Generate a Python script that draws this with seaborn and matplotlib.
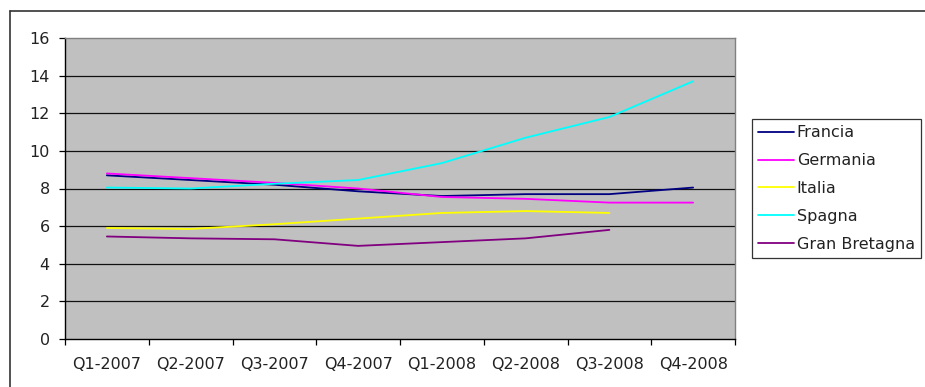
import numpy as np
import pandas as pd
import seaborn as sns
import matplotlib
matplotlib.use("Agg")
import matplotlib.pyplot as plt
from matplotlib.lines import Line2D

# Quarterly values per country
quarters = ["Q1-2007", "Q2-2007", "Q3-2007", "Q4-2007",
            "Q1-2008", "Q2-2008", "Q3-2008", "Q4-2008"]
francia = [8.7, 8.45, 8.2, 7.85, 7.6, 7.7, 7.7, 8.05]
germania = [8.8, 8.55, 8.3, 8.0, 7.55, 7.45, 7.25, 7.25]
italia = [5.9, 5.85, 6.1, 6.4, 6.7, 6.8, 6.7, np.nan]
spagna = [8.05, 8.0, 8.25, 8.45, 9.35, 10.7, 11.8, 13.7]
gran_bretagna = [5.45, 5.35, 5.3, 4.95, 5.15, 5.35, 5.8, np.nan]

countries = ["Francia", "Germania", "Italia", "Spagna", "Gran Bretagna"]
colors = ["#000080", "#FF00FF", "#FFFF00", "#00FFFF", "#800080"]
yticks = [0, 2, 4, 6, 8, 10, 12, 14, 16]

series = {"Francia": francia, "Germania": germania, "Italia": italia,
          "Spagna": spagna, "Gran Bretagna": gran_bretagna}
df = pd.DataFrame([
    {"quarter": q, "pos": i, "country": c, "value": v}
    for c in countries for i, (q, v) in enumerate(zip(quarters, series[c]))
]).dropna()

sns.set_theme(style="white")
plt.rcParams["font.family"] = ["DejaVu Sans"]

W, H = 925, 387
fig = plt.figure(figsize=(W / 100, H / 100), dpi=100)
fig.patch.set_facecolor("white")

# plot area in pixel coordinates
left, right, top, bottom = 65, 735, 38, 339
ax = fig.add_axes([left / W, 1 - bottom / H, (right - left) / W, (bottom - top) / H])
ax.set_facecolor("#C0C0C0")

sns.lineplot(data=df, x="pos", y="value", hue="country", hue_order=countries,
             palette=colors, linewidth=1.3, sort=False, estimator=None,
             ax=ax, legend=False)

ax.set_xlim(-0.5, len(quarters) - 0.5)
ax.set_ylim(0, 16)
ax.set_xlabel("")
ax.set_ylabel("")

# horizontal gridlines
for y in yticks[1:-1]:
    ax.axhline(y, color="#111111", linewidth=0.9, zorder=0.5)

text_color = "#222222"
fs = 11.5
ax.set_yticks(yticks)
ax.set_yticklabels([str(t) for t in yticks], fontsize=fs, color=text_color)
ax.tick_params(axis="y", direction="out", length=4, width=0.9, color="black",
               pad=7, left=True)

ax.set_xticks(range(len(quarters)))
ax.set_xticklabels(quarters, fontsize=fs, color=text_color)
ax.set_xticks(np.arange(-0.5, len(quarters), 1.0), minor=True)
ax.tick_params(axis="x", which="major", length=0, pad=13)
ax.tick_params(axis="x", which="minor", direction="out", length=4, width=0.9,
               color="black", bottom=True)

for side in ["left", "bottom"]:
    ax.spines[side].set_color("black")
    ax.spines[side].set_linewidth(1.0)
for side in ["top", "right"]:
    ax.spines[side].set_color("#808080")
    ax.spines[side].set_linewidth(1.0)

# legend
handles = [Line2D([0], [0], color=c, linewidth=1.3) for c in colors]
leg = fig.legend(handles, countries, loc="upper left",
                 bbox_to_anchor=(752 / W, 1 - 119 / H),
                 fontsize=fs, frameon=True, fancybox=False, shadow=False,
                 handlelength=2.2, handletextpad=0.2, labelspacing=0.8,
                 borderpad=0.4, borderaxespad=0)
leg.get_frame().set_edgecolor("black")
leg.get_frame().set_linewidth(0.9)
for t in leg.get_texts():
    t.set_color(text_color)

# outer chart frame
fig.add_artist(Line2D([10 / W, 10 / W], [1 - 11 / H, 0], color="#333333",
                      linewidth=1.2, transform=fig.transFigure))
fig.add_artist(Line2D([10 / W, 1], [1 - 11 / H, 1 - 11 / H], color="#333333",
                      linewidth=1.2, transform=fig.transFigure))

fig.savefig("out.png", dpi=100)
